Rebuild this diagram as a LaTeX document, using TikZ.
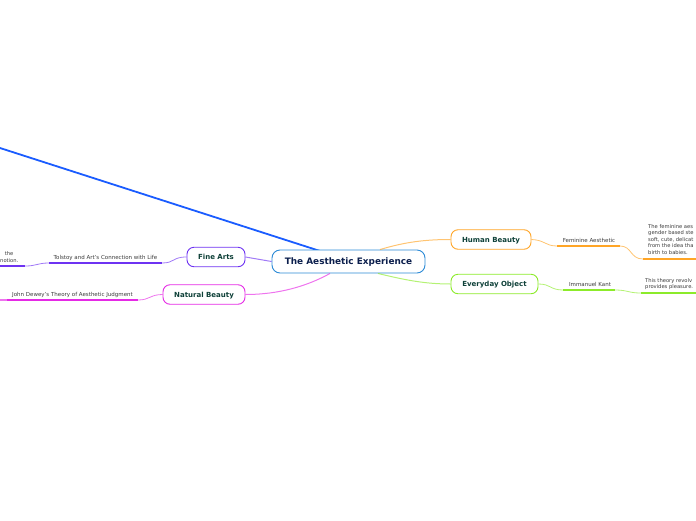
\documentclass[tikz,border=0pt]{standalone}
\usepackage{fontspec}
\setmainfont{DejaVu Sans}
\usetikzlibrary{calc}
\definecolor{cblue}{HTML}{1A5CFF}
\definecolor{croot}{HTML}{2B8AD6}
\definecolor{corange}{HTML}{FFA526}
\definecolor{cgreen}{HTML}{8CEB2A}
\definecolor{cpurple}{HTML}{6E33F2}
\definecolor{cmag}{HTML}{E52AE5}
\definecolor{ctitle}{HTML}{0C1F4D}
\definecolor{cnode}{HTML}{0E4038}
\definecolor{ctext}{HTML}{3A3A3A}
\tikzset{
  rootbox/.style={draw=croot,line width=0.9pt,rounded corners=8pt,fill=white,minimum width=153pt,minimum height=23pt,inner sep=0pt,text height=6.6pt,text depth=0pt,text=ctitle,font=\fontsize{8.9}{10}\selectfont\bfseries},
  mainbox/.style={draw=#1,line width=0.9pt,rounded corners=7pt,fill=white,minimum height=19.5pt,inner sep=0pt,text height=5.3pt,text depth=0pt,text=cnode,font=\fontsize{7.0}{8}\selectfont\bfseries},
  subtext/.style={text=ctext,font=\fontsize{5.5}{6.5}\selectfont,inner sep=0pt},
  desctext/.style={text=ctext,font=\fontsize{5.2}{6.6}\selectfont,inner sep=0pt,align=left},
  link/.style={draw=#1,line width=0.8pt,draw opacity=0.65},
  uline/.style={draw=#1,line width=1.5pt},
}
\begin{document}
\begin{tikzpicture}[x=1pt,y=-1pt]
\useasboundingbox (0,0) rectangle (696,520);
\clip (0,0) rectangle (696,520);
% big blue line
\coordinate (bl) at (0,148);
\draw[cblue,line width=1.8pt] (bl) -- (320,251);
% nodes
\node[rootbox] (root) at (348.5,261.5) {The Aesthetic Experience};
\node[mainbox=corange,minimum width=80pt] (hb) at (491,239.5) {Human Beauty};
\node[mainbox=cgreen,minimum width=87pt] (eo) at (494.5,284) {Everyday Object};
\node[mainbox=cpurple,minimum width=58pt] (fa) at (216,257) {Fine Arts};
\node[mainbox=cmag,minimum width=82pt] (nb) at (204,294.5) {Natural Beauty};
% main links
\draw[link=corange,line width=1pt] ($(root.north)+(31.5,0)$) .. controls (405,242) and (425,239.5) .. (hb.west);
\draw[link=cgreen,line width=1pt] ($(root.south)+(29.5,0)$) .. controls (405,280) and (425,284) .. (eo.west);
\draw[link=cpurple,line width=1pt] (root.west) -- (fa.east);
\draw[link=cmag,line width=1pt] ($(root.south)+(-18.5,0)$) .. controls (300,290) and (270,294.5) .. (nb.east);
% Human Beauty branch
\node[subtext] (fem) at (589,240.5) {Feminine Aesthetic};
\coordinate (feml) at (557,246);
\coordinate (femr) at (620,246);
\draw[link=corange] (hb.east) .. controls (545,240) and (545,246) .. (feml);
\draw[uline=corange] (feml) -- (femr);
\coordinate (fdl) at (643,259);
\coordinate (fdr) at (700,259);
\draw[link=corange] (femr) .. controls (632,246) and (630,259) .. (fdl);
\draw[uline=corange] (fdl) -- (fdr);
\node[desctext,anchor=north west] (femd) at (648,224) {The feminine aes\\gender based ste\\soft, cute, delicat\\from the idea tha\\birth to babies.};
% Everyday Object branch
\node[subtext] (kant) at (590,284.5) {Immanuel Kant};
\coordinate (kantl) at (563,290);
\coordinate (kantr) at (615,290);
\draw[link=cgreen] (eo.east) .. controls (551,284) and (550,290) .. (kantl);
\draw[uline=cgreen] (kantl) -- (kantr);
\coordinate (kdl) at (641,293);
\coordinate (kdr) at (700,293);
\draw[link=cgreen] (kantr) .. controls (628,290) and (628,293) .. (kdl);
\draw[uline=cgreen] (kdl) -- (kdr);
\node[desctext,anchor=north west] (kantd) at (645,278) {This theory revolv\\provides pleasure.};
% Fine Arts branch
\node[subtext] (tol) at (105.5,257.5) {Tolstoy and Art’s Connection with Life};
\coordinate (toll) at (49,263);
\coordinate (tolr) at (162,263);
\draw[link=cpurple] (fa.west) .. controls (172,257) and (175,263) .. (tolr);
\draw[uline=cpurple] (toll) -- (tolr);
\coordinate (tdr) at (25,266);
\coordinate (tdl) at (-5,266);
\draw[link=cpurple] (toll) .. controls (37,263) and (37,266) .. (tdr);
\draw[uline=cpurple] (tdr) -- (tdl);
\node[desctext,anchor=north east,align=right] (told) at (18.5,251.5) {the\phantom{n.}\\notion.};
% Natural Beauty branch
\node[subtext] (dew) at (72.5,294.5) {John Dewey’s Theory of Aesthetic Judgment};
\coordinate (dewl) at (7,300);
\coordinate (dewr) at (138,300);
\draw[link=cmag] (nb.west) .. controls (150,294.5) and (150,300) .. (dewr);
\draw[uline=cmag] (dewl) -- (dewr);
\coordinate (ddl) at (-5,300);
\draw[link=cmag,line width=1.2pt] (dewl) -- (ddl);
\end{tikzpicture}
\end{document}
